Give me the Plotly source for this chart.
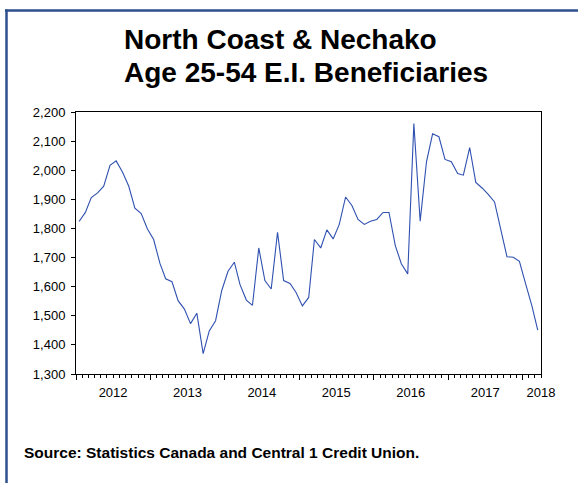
import pandas as pd
import plotly.graph_objects as go

# ---- data (monthly, Jan 2012 - Mar 2018) ----
start_month = "2012-01-01"
beneficiaries = [
    1824, 1855, 1906, 1922, 1945, 2017, 2032, 1994, 1945, 1870, 1851, 1799,   # 2012
    1762, 1680, 1627, 1617, 1552, 1523, 1473, 1509, 1370, 1448, 1483, 1586,   # 2013
    1653, 1684, 1607, 1554, 1536, 1733, 1621, 1592, 1787, 1621, 1611, 1580,   # 2014
    1534, 1563, 1762, 1733, 1795, 1764, 1814, 1908, 1879, 1831, 1814, 1825,   # 2015
    1831, 1855, 1855, 1741, 1678, 1644, 2160, 1825, 2029, 2125, 2115, 2037,   # 2016
    2029, 1989, 1983, 2078, 1958, 1939, 1917, 1891, 1795, 1703, 1701, 1687,   # 2017
    1609, 1532, 1451,                                                          # 2018
]
year_label_pos = ["2012-07-01", "2013-07-01", "2014-07-01", "2015-07-01",
                  "2016-07-01", "2017-07-01", "2018-04-01"]
year_labels = ["2012", "2013", "2014", "2015", "2016", "2017", "2018"]
x_range = ["2012-01-01", "2018-04-01"]
y_range = [1300, 2200]

title_line1 = "North Coast & Nechako"
title_line2 = "Age 25-54 E.I. Beneficiaries"
source_text = "Source: Statistics Canada and Central 1 Credit Union."

# month mid-points for plotting
months = pd.date_range(start_month, periods=len(beneficiaries), freq="MS") + pd.Timedelta(days=15)

FONT = "Liberation Sans, Arial, sans-serif"
W, H = 578, 483
L, R, T, B = 76, 37, 112, 109
PW, PH = W - L - R, H - T - B

def px_x(px):
    return (px - L) / PW

def px_y(py):
    return (H - B - py) / PH

fig = go.Figure()
fig.add_trace(go.Scatter(
    x=months, y=beneficiaries, mode="lines",
    line=dict(color="#2F50B0", width=1.1),
    hoverinfo="skip", showlegend=False,
))
# invisible trace on the tick-only axis
fig.add_trace(go.Scatter(x=[months[0]], y=[beneficiaries[0]], xaxis="x2",
                         mode="markers", marker=dict(opacity=0),
                         showlegend=False, hoverinfo="skip"))

fig.update_layout(
    width=W, height=H,
    margin=dict(l=L, r=R, t=T, b=B),
    paper_bgcolor="white", plot_bgcolor="white",
    font=dict(family=FONT, color="black"),
    xaxis=dict(
        type="date", range=x_range,
        tickmode="array", tickvals=year_label_pos, ticktext=year_labels,
        ticks="outside", ticklen=6, tickcolor="rgba(0,0,0,0)",
        tickfont=dict(size=13, family=FONT, color="black"),
        showgrid=False, zeroline=False,
        showline=True, linecolor="black", linewidth=1, mirror=True,
    ),
    xaxis2=dict(
        type="date", range=x_range, overlaying="x", side="bottom",
        tickmode="linear", tick0="2012-01-01", dtick="M12",
        ticks="outside", ticklen=5, tickcolor="black", tickwidth=1,
        showticklabels=False, showgrid=False, zeroline=False, showline=False,
        minor=dict(tickmode="linear", tick0="2012-01-01", dtick="M1",
                   ticks="outside", ticklen=3, tickcolor="black", tickwidth=1,
                   showgrid=False),
    ),
    yaxis=dict(
        range=y_range, tickmode="linear", tick0=1300, dtick=100,
        tickformat=",", ticks="outside", ticklen=4, tickcolor="black",
        tickfont=dict(size=13, family=FONT, color="black"),
        ticklabelstandoff=3,
        showgrid=False, zeroline=False,
        showline=True, linecolor="black", linewidth=1, mirror=True,
    ),
)

# titles
fig.add_annotation(text=f"<b>{title_line1}</b>", xref="paper", yref="paper",
                   x=px_x(122), y=px_y(39), xanchor="left", yanchor="middle",
                   showarrow=False, font=dict(size=28, family=FONT, color="black"))
fig.add_annotation(text=f"<b>{title_line2}</b>", xref="paper", yref="paper",
                   x=px_x(122), y=px_y(73), xanchor="left", yanchor="middle",
                   showarrow=False, font=dict(size=28, family=FONT, color="black"))
# source
fig.add_annotation(text=f"<b>{source_text}</b>", xref="paper", yref="paper",
                   x=px_x(22), y=px_y(452), xanchor="left", yanchor="middle",
                   showarrow=False, font=dict(size=15.5, family=FONT, color="black"))

# frame (top and left blue rule)
frame_color = "#2E4F8E"
fig.add_shape(type="line", xref="paper", yref="paper",
              x0=px_x(5), x1=px_x(W + 2), y0=px_y(10.5), y1=px_y(10.5),
              line=dict(color=frame_color, width=2.5))
fig.add_shape(type="line", xref="paper", yref="paper",
              x0=px_x(6.5), x1=px_x(6.5), y0=px_y(9.5), y1=px_y(H + 2),
              line=dict(color=frame_color, width=2.5))

fig.write_html(
    "out.html",
    config={"displayModeBar": False, "staticPlot": True},
    post_script="document.body.style.margin='0';document.body.style.overflow='hidden';",
)
